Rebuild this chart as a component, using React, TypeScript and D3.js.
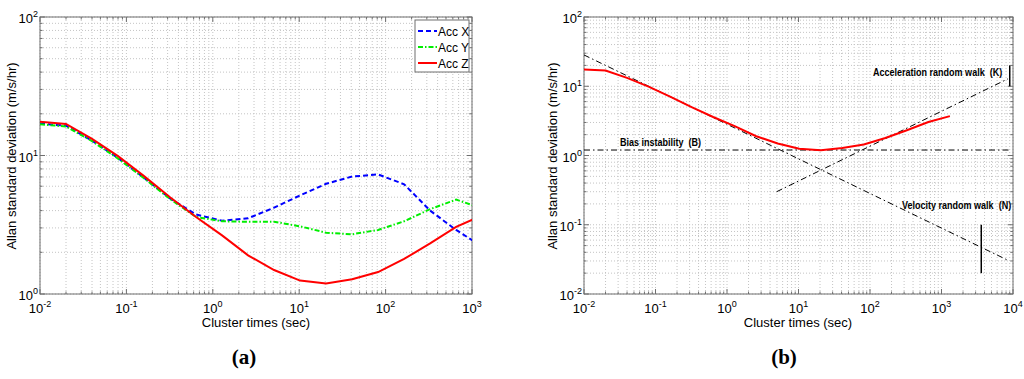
import React from 'react';
import * as d3 from 'd3';

// cluster times (s) of the Allan variance estimate
const tau = [0.01, 0.02, 0.04, 0.08, 0.16, 0.32, 0.64, 1.28, 2.56, 5.12, 10.24, 20.48, 40.96, 81.92, 163.84, 327.68, 655.36, 1310.72];
const accX = [17.0, 16.4, 12.8, 9.6, 6.9, 4.9, 3.75, 3.38, 3.52, 4.2, 5.15, 6.25, 7.05, 7.3, 6.2, 4.0, 2.9, 2.2];
const accY = [16.8, 16.2, 12.7, 9.5, 6.85, 4.85, 3.6, 3.35, 3.32, 3.33, 3.08, 2.77, 2.7, 2.9, 3.35, 4.1, 4.8, 4.15];
const accZ = [17.5, 16.9, 13.2, 9.9, 7.1, 5.0, 3.6, 2.65, 1.9, 1.49, 1.25, 1.19, 1.28, 1.44, 1.79, 2.32, 3.05, 3.7];

const seriesA = [
  { name: 'Acc X', values: accX, color: '#0000ff', dash: '5,3' },
  { name: 'Acc Y', values: accY, color: '#00ee00', dash: '5,2,1.5,2' },
  { name: 'Acc Z', values: accZ, color: '#ff0000', dash: null },
];

// noise terms fitted on the Z curve
const velTau = [0.01, 8500];
const velRW = [28.3, 0.0307];
const biasTau = [0.01, 8800];
const bias = [1.2, 1.2];
const accRwTau = [4.95, 8500];
const accRW = [0.3, 12.8];
const kMarkTau = 9000;
const kMark = [10, 20];
const nMarkTau = 3600;
const nMark = [0.02, 0.1];

const notes = [
  { text: 'Bias instability  (B)', x: 620, y: 146 },
  { text: 'Acceleration random walk  (K)', x: 873, y: 76 },
  { text: 'Velocity random walk  (N)', x: 902, y: 209 },
];

const FONT = '"Liberation Sans", Arial, Helvetica, sans-serif';
const SERIF = '"Liberation Serif", "Times New Roman", serif';

function powTicks(lo: number, hi: number) {
  const major: number[] = [];
  const minor: number[] = [];
  for (let e = lo; e <= hi; e++) {
    major.push(e);
    if (e < hi) for (let m = 2; m <= 9; m++) minor.push(m * Math.pow(10, e));
  }
  return { major, minor };
}

function Axes({ x, y, xe, ye, id }: any) {
  const [x0, x1] = x.range();
  const [y0, y1] = y.range();
  const xt = powTicks(xe[0], xe[1]);
  const yt = powTicks(ye[0], ye[1]);
  const grid = { stroke: '#c4c4c4', strokeWidth: 1, strokeDasharray: '1,2' };
  const tk = { stroke: '#6e6e6e', strokeWidth: 1 };
  return (
    <g>
      {xt.minor.map(v => <line key={'gx' + v} x1={x(v)} x2={x(v)} y1={y0} y2={y1} {...grid} />)}
      {xt.major.map(e => <line key={'gX' + e} x1={x(Math.pow(10, e))} x2={x(Math.pow(10, e))} y1={y0} y2={y1} {...grid} />)}
      {yt.minor.map(v => <line key={'gy' + v} y1={y(v)} y2={y(v)} x1={x0} x2={x1} {...grid} />)}
      {yt.major.map(e => <line key={'gY' + e} y1={y(Math.pow(10, e))} y2={y(Math.pow(10, e))} x1={x0} x2={x1} {...grid} />)}
      {/* tick marks inside on all four sides */}
      {xt.minor.map(v => (
        <g key={'tx' + v}>
          <line x1={x(v)} x2={x(v)} y1={y0} y2={y0 - 2.5} {...tk} />
          <line x1={x(v)} x2={x(v)} y1={y1} y2={y1 + 2.5} {...tk} />
        </g>
      ))}
      {xt.major.map(e => (
        <g key={'tX' + e}>
          <line x1={x(Math.pow(10, e))} x2={x(Math.pow(10, e))} y1={y0} y2={y0 - 5} {...tk} />
          <line x1={x(Math.pow(10, e))} x2={x(Math.pow(10, e))} y1={y1} y2={y1 + 5} {...tk} />
        </g>
      ))}
      {yt.minor.map(v => (
        <g key={'ty' + v}>
          <line y1={y(v)} y2={y(v)} x1={x0} x2={x0 + 2.5} {...tk} />
          <line y1={y(v)} y2={y(v)} x1={x1} x2={x1 - 2.5} {...tk} />
        </g>
      ))}
      {yt.major.map(e => (
        <g key={'tY' + e}>
          <line y1={y(Math.pow(10, e))} y2={y(Math.pow(10, e))} x1={x0} x2={x0 + 5} {...tk} />
          <line y1={y(Math.pow(10, e))} y2={y(Math.pow(10, e))} x1={x1} x2={x1 - 5} {...tk} />
        </g>
      ))}
      <rect x={x0} y={y1} width={x1 - x0} height={y0 - y1} fill="none" stroke="#6e6e6e" strokeWidth={1} />
      {xt.major.map(e => (
        <text key={'lx' + e} x={x(Math.pow(10, e))} y={y0 + 19} textAnchor="middle" fontFamily={FONT} fontSize={13}>
          10<tspan dy={-6} fontSize={9}>{e}</tspan>
        </text>
      ))}
      {yt.major.map(e => (
        <text key={'ly' + e} x={x0 - 2} y={y(Math.pow(10, e)) + 6} textAnchor="end" fontFamily={FONT} fontSize={13}>
          10<tspan dy={-6} fontSize={9}>{e}</tspan>
        </text>
      ))}
      <clipPath id={id}>
        <rect x={x0} y={y1} width={x1 - x0} height={y0 - y1} />
      </clipPath>
    </g>
  );
}

export default function App() {
  const xa = d3.scaleLog().domain([1e-2, 1e3]).range([40, 472]);
  const ya = d3.scaleLog().domain([1, 100]).range([294, 17]);
  const xb = d3.scaleLog().domain([1e-2, 1e4]).range([584, 1013]);
  const yb = d3.scaleLog().domain([1e-2, 1e2]).range([294, 17]);

  const lineA = d3.line<number>().x((d, i) => xa(tau[i])).y(d => ya(d));
  const lineB = d3.line<number>().x((d, i) => xb(tau[i])).y(d => yb(d));
  const refB = (ts: number[]) => d3.line<number>().x((d, i) => xb(ts[i])).y(d => yb(d));

  const legendRows = [31, 47, 63];

  return (
    <svg width={1024} height={379} style={{ position: 'absolute', left: 0, top: 0, background: '#fff' }}>
      <rect width={1024} height={379} fill="#fff" />

      {/* panel (a) */}
      <Axes x={xa} y={ya} xe={[-2, 3]} ye={[0, 2]} id="clipA" />
      <g clipPath="url(#clipA)">
        {seriesA.map(s => (
          <path key={s.name} d={lineA(s.values) || ''} fill="none" stroke={s.color} strokeWidth={2}
            strokeDasharray={s.dash || undefined} />
        ))}
      </g>
      <rect x={415} y={20} width={54} height={52} fill="#fff" stroke="#6e6e6e" strokeWidth={1} />
      {seriesA.map((s, i) => (
        <g key={'lg' + s.name}>
          <line x1={418} x2={437} y1={legendRows[i]} y2={legendRows[i]} stroke={s.color} strokeWidth={2}
            strokeDasharray={s.dash || undefined} />
          <text x={438} y={legendRows[i] + 4.5} fontFamily={FONT} fontSize={12}>{s.name}</text>
        </g>
      ))}
      <text transform="translate(16,156) rotate(-90)" textAnchor="middle" fontFamily={FONT} fontSize={13}>
        Allan standard deviation (m/s/hr)
      </text>
      <text x={256} y={327} textAnchor="middle" fontFamily={FONT} fontSize={13}>Cluster times (sec)</text>
      <text x={244} y={364} textAnchor="middle" fontFamily={SERIF} fontWeight="bold" fontSize={21}>(a)</text>

      {/* panel (b) */}
      <Axes x={xb} y={yb} xe={[-2, 4]} ye={[-2, 2]} id="clipB" />
      <g clipPath="url(#clipB)">
        <path d={refB(velTau)(velRW) || ''} fill="none" stroke="#000" strokeWidth={1} strokeDasharray="6,3,1.5,3" />
        <path d={refB(biasTau)(bias) || ''} fill="none" stroke="#000" strokeWidth={1} strokeDasharray="6,3,1.5,3" />
        <path d={refB(accRwTau)(accRW) || ''} fill="none" stroke="#000" strokeWidth={1} strokeDasharray="6,3,1.5,3" />
        <path d={lineB(accZ) || ''} fill="none" stroke="#ff0000" strokeWidth={2} />
      </g>
      <line x1={xb(kMarkTau)} x2={xb(kMarkTau)} y1={yb(kMark[0])} y2={yb(kMark[1])} stroke="#000" strokeWidth={1.5} />
      <line x1={xb(nMarkTau)} x2={xb(nMarkTau)} y1={yb(nMark[0])} y2={yb(nMark[1])} stroke="#000" strokeWidth={1.5} />
      {notes.map(n => (
        <text key={n.text} transform={`translate(${n.x},${n.y}) scale(0.82,1)`} xmlSpace="preserve"
          fontFamily={FONT} fontWeight="bold" fontSize={11}>{n.text}</text>
      ))}
      <text transform="translate(557,156) rotate(-90)" textAnchor="middle" fontFamily={FONT} fontSize={13}>
        Allan standard deviation (m/s/hr)
      </text>
      <text x={798} y={327} textAnchor="middle" fontFamily={FONT} fontSize={13}>Cluster times (sec)</text>
      <text x={784} y={364} textAnchor="middle" fontFamily={SERIF} fontWeight="bold" fontSize={21}>(b)</text>
    </svg>
  );
}
